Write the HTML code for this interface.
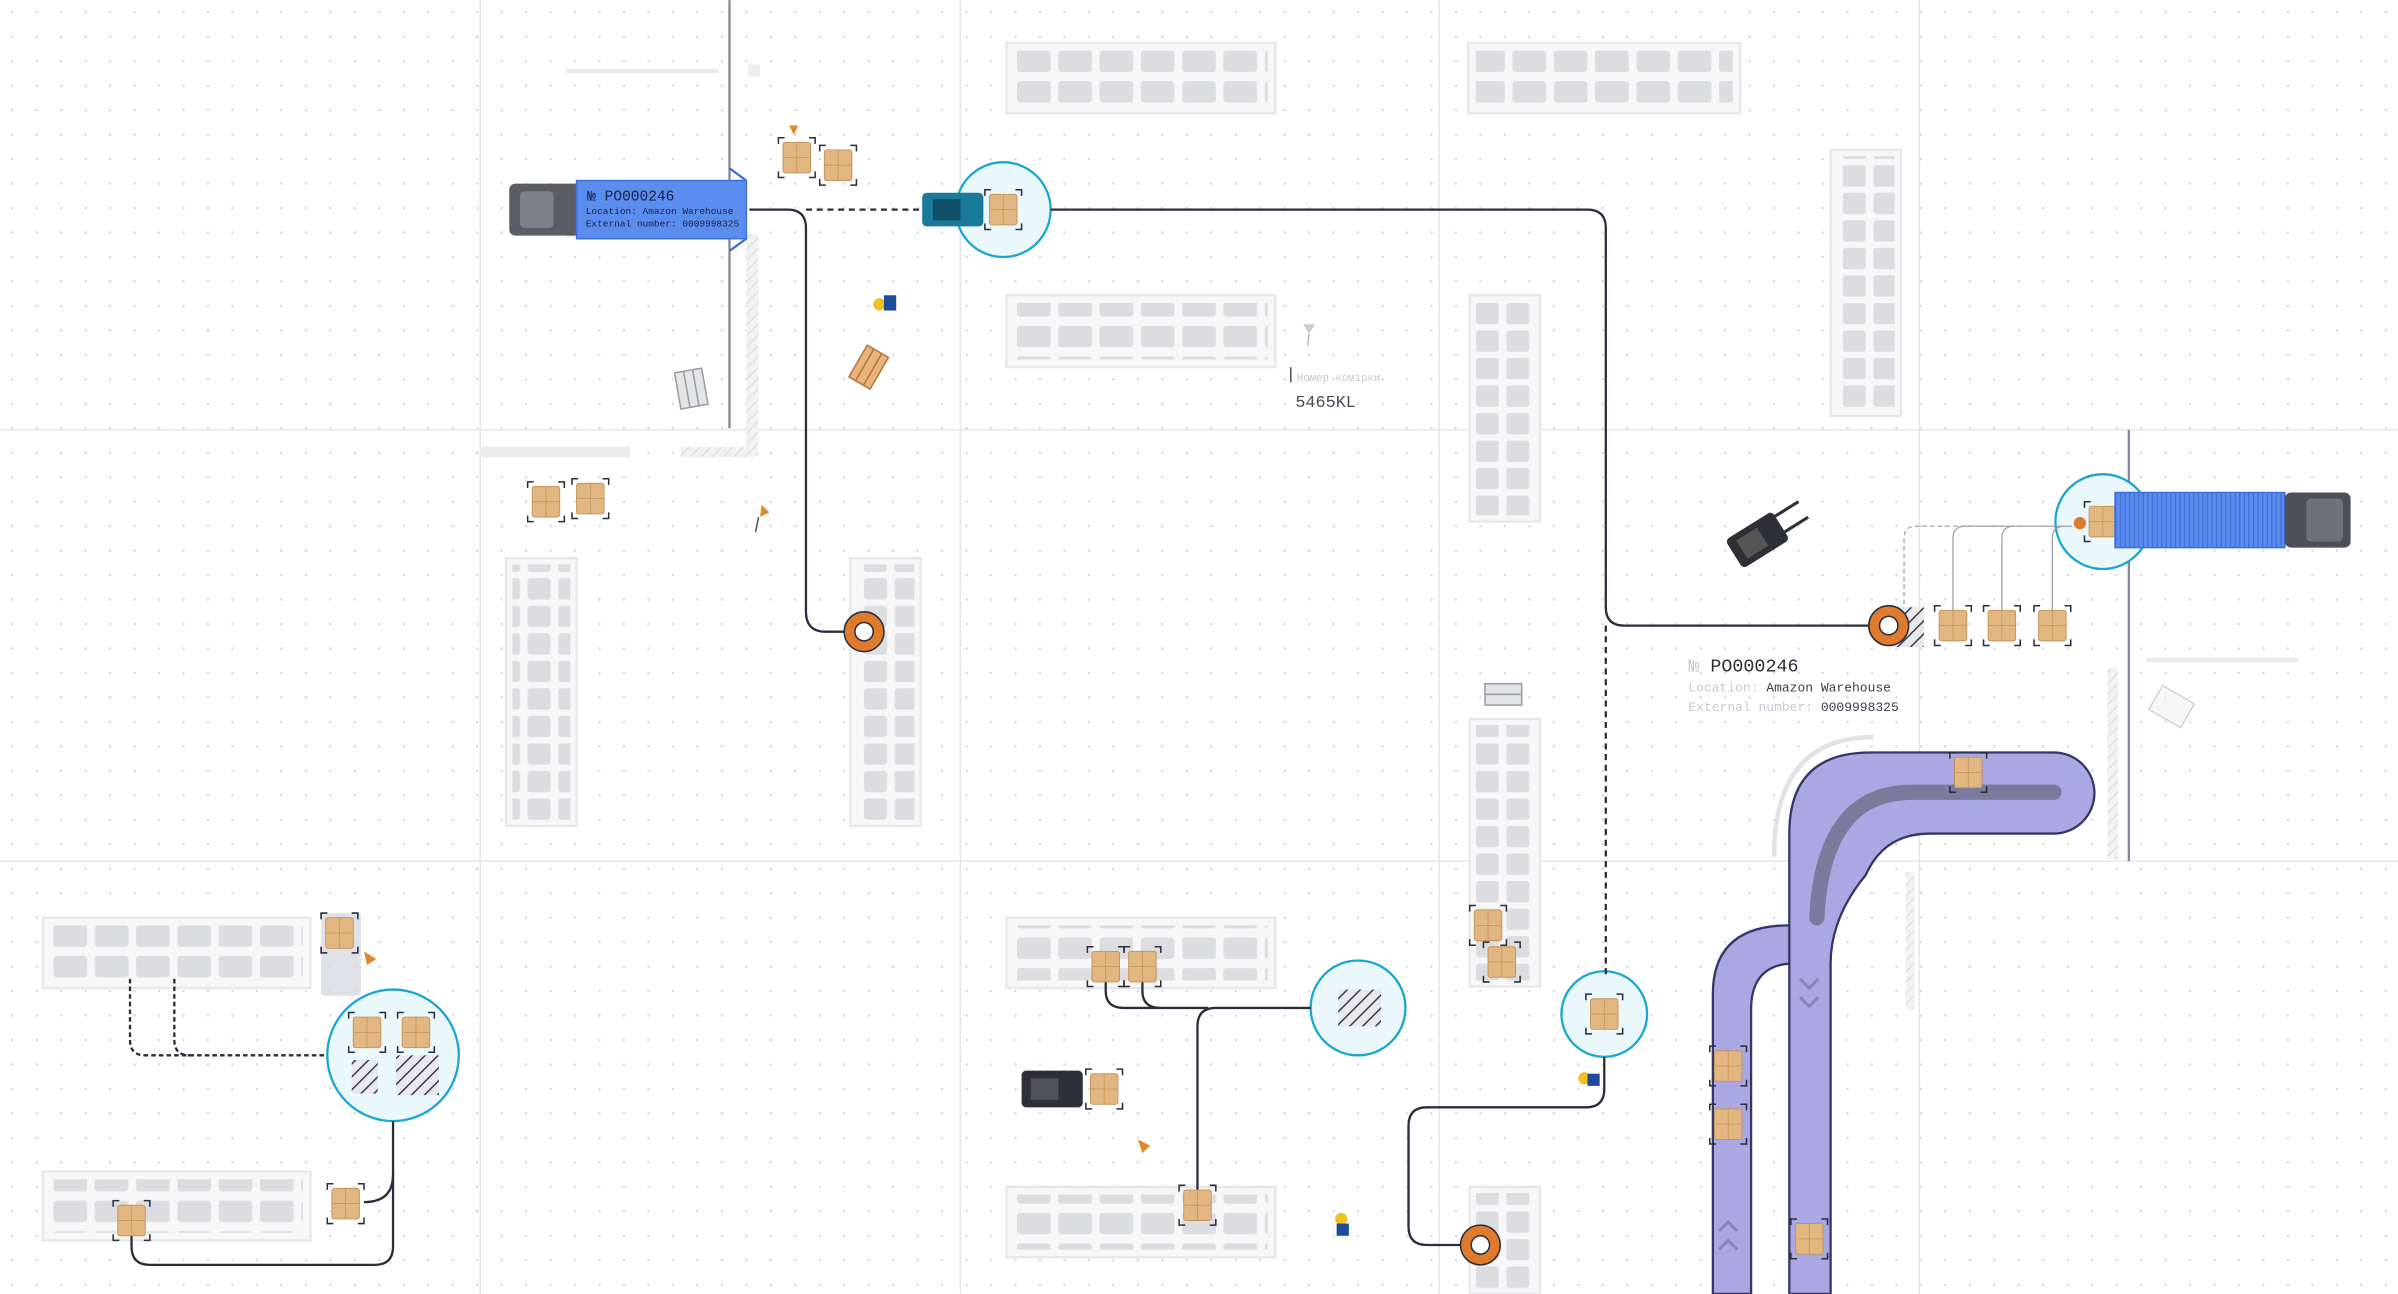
<!DOCTYPE html>
<html><head><meta charset="utf-8"><style>
html,body{margin:0;padding:0;background:#fff;}
svg{display:block;}
text{font-family:"Liberation Mono",monospace;}
</style></head><body>
<svg width="2398" height="1294" viewBox="0 0 1568 846" xmlns="http://www.w3.org/2000/svg">
<defs>
<pattern id="dots" width="16" height="16" patternUnits="userSpaceOnUse"><circle cx="8" cy="8" r="0.8" fill="#d5d8e2"/></pattern>
<pattern id="hb" width="27" height="20" patternUnits="userSpaceOnUse" x="665" y="33"><rect x="0" y="0" width="22" height="14" rx="2" fill="#dcdde1"/></pattern>
<pattern id="hb2" width="27" height="20" patternUnits="userSpaceOnUse" x="35" y="605"><rect x="0" y="0" width="22" height="14" rx="2" fill="#dcdde1"/></pattern>
<pattern id="vb" width="20" height="18" patternUnits="userSpaceOnUse" x="965" y="198"><rect x="0" y="0" width="15" height="14" rx="2" fill="#dcdde1"/></pattern>
<pattern id="hatch" width="6" height="6" patternUnits="userSpaceOnUse" patternTransform="rotate(45)"><rect width="6" height="6" fill="#e8e8ec"/><line x1="0" y1="0" x2="0" y2="6" stroke="#3a3d48" stroke-width="2"/></pattern>
<pattern id="lhatch" width="5" height="5" patternUnits="userSpaceOnUse" patternTransform="rotate(45)"><rect width="5" height="5" fill="#f2f2f4"/><line x1="0" y1="0" x2="0" y2="5" stroke="#dcdce0" stroke-width="1.5"/></pattern>
<pattern id="stripes" width="3" height="10" patternUnits="userSpaceOnUse"><rect width="3" height="10" fill="#5a8cf0"/><line x1="0.5" y1="0" x2="0.5" y2="10" stroke="#3d6fd6" stroke-width="0.8"/></pattern>
<g id="box"><rect x="-9" y="-10" width="18" height="20" rx="1.5" fill="#e2b681" stroke="#c2915a" stroke-width="0.6"/><line x1="-9" y1="0" x2="9" y2="0" stroke="#c2915a" stroke-width="0.5"/><line x1="0" y1="-10" x2="0" y2="10" stroke="#c2915a" stroke-width="0.5"/>
<path d="M-12 -9 V-13 H-8 M8 -13 H12 V-9 M12 9 V13 H8 M-8 13 H-12 V9" fill="none" stroke="#2a2d3a" stroke-width="1"/></g>
<g id="onode"><circle r="13" fill="#e07a2c" stroke="#2a2d3a" stroke-width="1"/><circle r="6" fill="#fff" stroke="#2a2d3a" stroke-width="1"/></g>
</defs>
<rect width="1568" height="846" fill="#fff"/>
<rect width="1568" height="846" fill="url(#dots)"/>
<!-- grid lines -->
<g stroke="#e4e6ec" stroke-width="1">
<line x1="314" y1="0" x2="314" y2="846"/><line x1="628" y1="0" x2="628" y2="846"/><line x1="941" y1="0" x2="941" y2="846"/><line x1="1255" y1="0" x2="1255" y2="846"/>
<line x1="0" y1="281" x2="1568" y2="281"/><line x1="0" y1="563" x2="1568" y2="563"/>
</g>
<!-- walls -->
<line x1="477" y1="0" x2="477" y2="280" stroke="#858896" stroke-width="1.5"/>
<line x1="1392" y1="281" x2="1392" y2="563" stroke="#858896" stroke-width="1.5"/>
<rect x="370" y="45" width="100" height="3" rx="1.5" fill="#ebebee"/>
<rect x="370" y="152" width="100" height="3" rx="1.5" fill="#ebebee"/>
<rect x="488" y="153" width="8" height="145" fill="url(#lhatch)"/>
<rect x="314" y="292" width="98" height="7" fill="#ececef"/>
<rect x="445" y="292" width="48" height="7" fill="url(#lhatch)"/>
<rect x="1403" y="343" width="100" height="3" rx="1.5" fill="#ebebee"/>
<rect x="1403" y="430" width="100" height="3" rx="1.5" fill="#ebebee"/>
<rect x="1378" y="437" width="7" height="125" fill="url(#lhatch)"/>
<rect x="1246" y="570" width="6" height="90" fill="url(#lhatch)"/>
<rect x="489" y="42" width="8" height="8" fill="#eee"/>
<!-- racks -->
<g stroke="#e6e7ea" stroke-width="1.5">
<rect x="658" y="28" width="176" height="46" fill="#f7f7f8"/>
<rect x="960" y="28" width="178" height="46" fill="#f7f7f8"/>
<rect x="658" y="193" width="176" height="47" fill="#f7f7f8"/>
<rect x="658" y="600" width="176" height="46" fill="#f7f7f8"/>
<rect x="658" y="776" width="176" height="46" fill="#f7f7f8"/>
<rect x="28" y="600" width="175" height="46" fill="#f7f7f8"/>
<rect x="28" y="766" width="175" height="45" fill="#f7f7f8"/>
<rect x="1197" y="98" width="46" height="174" fill="#f7f7f8"/>
<rect x="961" y="193" width="46" height="148" fill="#f7f7f8"/>
<rect x="331" y="365" width="46" height="175" fill="#f7f7f8"/>
<rect x="556" y="365" width="46" height="175" fill="#f7f7f8"/>
<rect x="961" y="470" width="46" height="175" fill="#f7f7f8"/>
<rect x="961" y="776" width="46" height="70" fill="#f7f7f8"/>
</g>
<g>
<rect x="663" y="33" width="166" height="36" fill="url(#hb)"/>
<rect x="965" y="33" width="168" height="36" fill="url(#hb)"/>
<rect x="663" y="198" width="166" height="37" fill="url(#hb)"/>
<rect x="663" y="605" width="166" height="36" fill="url(#hb)"/>
<rect x="663" y="781" width="166" height="36" fill="url(#hb)"/>
<rect x="33" y="605" width="165" height="36" fill="url(#hb2)"/>
<rect x="33" y="771" width="165" height="35" fill="url(#hb2)"/>
<rect x="1201" y="102" width="38" height="166" fill="url(#vb)"/>
<rect x="965" y="197" width="38" height="140" fill="url(#vb)"/>
<rect x="335" y="369" width="38" height="167" fill="url(#vb)"/>
<rect x="560" y="369" width="38" height="167" fill="url(#vb)"/>
<rect x="965" y="474" width="38" height="167" fill="url(#vb)"/>
<rect x="965" y="780" width="38" height="66" fill="url(#vb)"/>
</g>
<!-- conveyor -->
<path d="M1160 560 Q1160 482 1225 482" fill="none" stroke="#e2e2e6" stroke-width="3"/>
<path d="M1170 846 V545 Q1170 492 1223 492 H1343 A26.5 26.5 0 0 1 1343 545 H1262 Q1232 545 1220 572 Q1197 600 1197 630 V846 Z" fill="#a9a8e2" stroke="#353766" stroke-width="1.5"/>
<path d="M1188 600 Q1192 518 1250 518 H1343" fill="none" stroke="#7a7a9c" stroke-width="10" stroke-linecap="round"/>
<path d="M1120 846 V650 Q1120 605 1170 605 V630 Q1145 632 1145 660 V846 Z" fill="#a9a8e2" stroke="#353766" stroke-width="1.5"/>
<path d="M1177 640 l6 6 l6 -6 M1177 652 l6 6 l6 -6" fill="none" stroke="#8888b8" stroke-width="2"/>
<path d="M1124 805 l6 -6 l6 6 M1124 817 l6 -6 l6 6" fill="none" stroke="#8888b8" stroke-width="2"/>
<!-- circles -->
<g fill="#eaf8fc" stroke="#19a6cf" stroke-width="1.5">
<circle cx="656" cy="137" r="31"/><circle cx="257" cy="690" r="43"/><circle cx="888" cy="659" r="31"/><circle cx="1049" cy="663" r="28"/><circle cx="1375" cy="341" r="31"/>
</g>
<!-- connectors -->
<g fill="none" stroke="#2a2d3a" stroke-width="1.5">
<path d="M490 137 H515 Q527 137 527 149 V400 Q527 413 540 413 H553"/>
<path d="M527 137 H603" stroke-dasharray="4 3"/>
<path d="M687 137 H1038 Q1050 137 1050 149 V397 Q1050 409 1062 409 H1222"/>
<path d="M1050 409 V640" stroke-dasharray="4 3"/>
<path d="M1049 691 V712 Q1049 724 1037 724 H933 Q921 724 921 736 V802 Q921 814 933 814 H956"/>
<path d="M857 659 H795 Q783 659 783 671 V780"/>
<path d="M723 640 V648 Q723 659 735 659 H790 M747 640 V648 Q747 659 759 659"/>
<path d="M85 640 V680 Q85 690 95 690 H214 M114 640 V680 Q114 690 124 690" stroke-dasharray="3 2"/>
<path d="M257 733 V815 Q257 827 245 827 H98 Q86 827 86 815 V806"/>
<path d="M238 786 Q257 786 257 768"/>
</g>
<g fill="none" stroke="#9a9ca6" stroke-width="0.8">
<path d="M1245 400 V352 Q1245 344 1253 344 H1310" stroke-dasharray="3 2"/>
<path d="M1277 400 V352 Q1277 344 1285 344 H1355"/>
<path d="M1309 400 V352 Q1309 344 1317 344"/>
<path d="M1342 400 V352 Q1342 344 1350 344"/>
</g>
<!-- orange nodes -->
<use href="#onode" x="565" y="413"/><use href="#onode" x="1235" y="409"/><use href="#onode" x="968" y="814"/>
<!-- hatch tiles -->
<rect x="1234" y="397" width="24" height="26" fill="url(#hatch)"/>
<use href="#onode" x="1235" y="409"/>
<rect x="875" y="647" width="28" height="24" fill="url(#hatch)"/>
<rect x="230" y="693" width="17" height="22" fill="url(#hatch)"/>
<rect x="259" y="690" width="28" height="26" fill="url(#hatch)"/>
<!-- boxes -->
<g>
<use href="#box" x="521" y="103"/><use href="#box" x="548" y="108"/><use href="#box" x="656" y="137"/>
<use href="#box" x="357" y="328"/><use href="#box" x="386" y="326"/>
<use href="#box" x="1277" y="409"/><use href="#box" x="1309" y="409"/><use href="#box" x="1342" y="409"/>
<use href="#box" x="1375" y="341"/><use href="#box" x="1287" y="505"/>
<use href="#box" x="222" y="610"/><use href="#box" x="240" y="675"/><use href="#box" x="272" y="675"/>
<use href="#box" x="226" y="787"/><use href="#box" x="86" y="798"/>
<use href="#box" x="723" y="632"/><use href="#box" x="747" y="632"/><use href="#box" x="783" y="788"/>
<use href="#box" x="722" y="712"/>
<use href="#box" x="973" y="605"/><use href="#box" x="982" y="629"/><use href="#box" x="1049" y="663"/>
<use href="#box" x="1130" y="697"/><use href="#box" x="1130" y="735"/><use href="#box" x="1183" y="810"/>
</g>
<rect x="210" y="597" width="26" height="54" rx="2" fill="#d3d4dc" opacity="0.7"/>
<use href="#box" x="222" y="610"/>
<!-- left truck -->
<rect x="333" y="120" width="46" height="34" rx="4" fill="#5a5d66"/>
<rect x="340" y="125" width="22" height="24" rx="3" fill="#7d808a"/>
<rect x="377" y="118" width="111" height="38" fill="#5b8def" stroke="#3f6fd8" stroke-width="1"/>
<path d="M477 110 L488 118 M477 164 L488 156" stroke="#3f6fd8" stroke-width="1.5"/>
<text x="384" y="131" font-size="9.5" fill="#1b2140">№ PO000246</text>
<text x="383" y="140" font-size="6.2" fill="#1b2140">Location: Amazon Warehouse</text>
<text x="383" y="148" font-size="6.2" fill="#1b2140">External number: 0009998325</text>
<!-- right truck -->
<rect x="1383" y="322" width="111" height="36" fill="url(#stripes)" stroke="#3f6fd8"/>
<rect x="1494" y="322" width="43" height="36" rx="4" fill="#4d505a"/>
<rect x="1508" y="326" width="24" height="28" rx="3" fill="#6e717b"/>
<!-- forklifts -->
<rect x="603" y="126" width="40" height="22" rx="3" fill="#1a7a9a"/>
<rect x="610" y="130" width="18" height="14" fill="#0f5068"/>
<rect x="668" y="700" width="40" height="24" rx="3" fill="#2e3038"/>
<rect x="674" y="705" width="18" height="14" fill="#50535c"/>
<g transform="translate(1152 350) rotate(-32)"><rect x="-22" y="-10" width="36" height="22" rx="3" fill="#2e3038"/><rect x="-16" y="-6" width="16" height="14" fill="#555"/><path d="M14 -6 H32 M14 6 H32" stroke="#2e3038" stroke-width="2"/></g>
<!-- pallets -->
<g transform="translate(452 254) rotate(-10)"><rect x="-9" y="-12" width="18" height="24" fill="#e3e4e8" stroke="#9a9ca6"/><path d="M-3 -12 V12 M3 -12 V12" stroke="#9a9ca6"/></g>
<g transform="translate(983 454)"><rect x="-12" y="-7" width="24" height="14" fill="#e3e4e8" stroke="#9a9ca6"/><path d="M-12 0 H12" stroke="#9a9ca6"/></g>
<g transform="translate(1420 462) rotate(30)" opacity="0.5"><rect x="-12" y="-9" width="24" height="18" fill="#eee" stroke="#aaa"/></g>
<g transform="translate(568 240) rotate(30)"><rect x="-8" y="-12" width="16" height="24" fill="#e9b37a" stroke="#b07840"/><path d="M-3 -12 V12 M3 -12 V12" stroke="#b07840"/></g>
<!-- workers -->
<circle cx="575" cy="199" r="4" fill="#f0c020"/><rect x="578" y="193" width="8" height="10" fill="#1f4c9a"/>
<circle cx="877" cy="797" r="4" fill="#f0c020"/><rect x="874" y="800" width="8" height="8" fill="#1f4c9a"/>
<circle cx="1036" cy="705" r="4" fill="#f0c020"/><rect x="1038" y="702" width="8" height="8" fill="#1f4c9a"/>
<circle cx="1360" cy="342" r="4" fill="#e07a2c"/>
<!-- small orange people -->
<path d="M498 330 l5 5 l-6 3 Z" fill="#e08a2c"/><line x1="496" y1="338" x2="494" y2="348" stroke="#555"/>
<path d="M238 622 l8 5 l-6 4 Z" fill="#e08a2c"/>
<path d="M744 745 l8 4 l-5 5 Z" fill="#e08a2c"/>
<path d="M516 82 l6 0 l-3 6 Z" fill="#e08a2c"/>
<path d="M852 212 l8 0 l-4 6 Z" fill="#ccc"/><line x1="856" y1="218" x2="855" y2="226" stroke="#bbb"/>
<!-- labels -->
<line x1="844" y1="240" x2="844" y2="250" stroke="#555" stroke-width="1"/>
<text x="848" y="249" font-size="7" fill="#c8c9d0">Номер комірки</text>
<text x="847" y="266" font-size="11" fill="#4a4c55" font-family="Liberation Sans, sans-serif">5465KL</text>
<text x="1104" y="439" font-size="12" fill="#2a2d3a"><tspan fill="#c8c9d0">№</tspan> PO000246</text>
<text x="1104" y="452" font-size="8.5" fill="#c8c9d0">Location: <tspan fill="#3a3d48">Amazon Warehouse</tspan></text>
<text x="1104" y="465" font-size="8.5" fill="#c8c9d0">External number: <tspan fill="#3a3d48">0009998325</tspan></text>
</svg>
</body></html>
